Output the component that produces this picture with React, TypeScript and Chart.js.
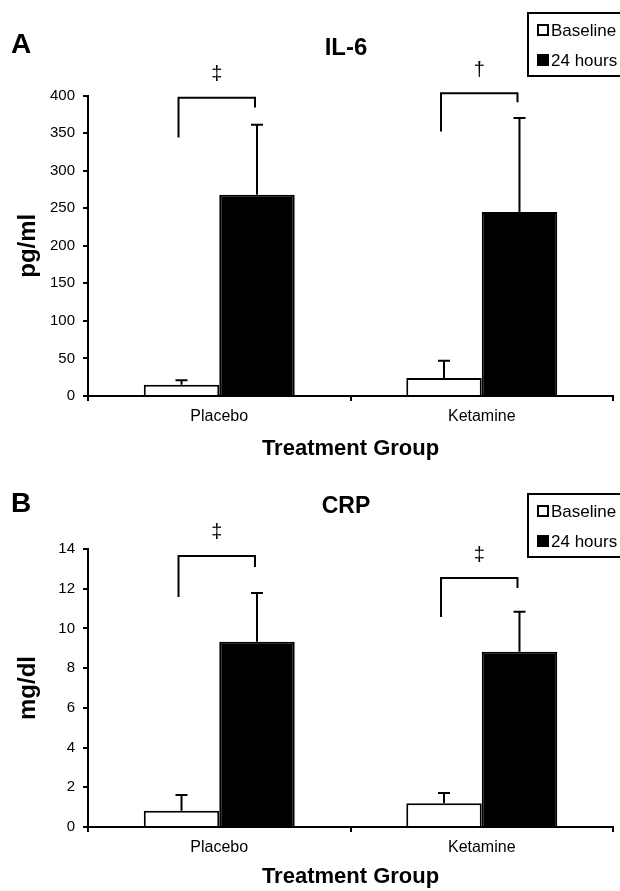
import React, { useEffect, useRef } from "react";
import { Chart, registerables } from "chart.js";

Chart.register(...registerables);

const FONT = "'Liberation Sans', Arial, Helvetica, sans-serif";

// ---- data ----
const categories = ["Placebo", "Ketamine"];
const seriesNames = ["Baseline", "24 hours"];
const xAxisTitle = "Treatment Group";

// Panel A: IL-6 (pg/ml)
const il6Baseline = [15, 24];
const il6BaselineErr = [6, 23];
const il6Hours24 = [268, 245];
const il6Hours24Err = [93, 125];
const il6Ticks = [0, 50, 100, 150, 200, 250, 300, 350, 400];
const il6BracketTop = [397, 403];
const il6BracketLeftEnd = [344, 352];
const il6BracketRightEnd = [384, 391];
const il6Sig = ["\u2021", "\u2020"];

// Panel B: CRP (mg/dl)
const crpBaseline = [0.82, 1.19];
const crpBaselineErr = [0.79, 0.52];
const crpHours24 = [9.33, 8.83];
const crpHours24Err = [2.46, 2.01];
const crpTicks = [0, 2, 4, 6, 8, 10, 12, 14];
const crpBracketTop = [13.65, 12.54];
const crpBracketLeftEnd = [11.58, 10.57];
const crpBracketRightEnd = [13.09, 12.03];
const crpSig = ["\u2021", "\u2021"];

type Panel = {
  top: number;
  height: number;
  letter: string;
  title: string;
  yTitle: string;
  baseline: number[];
  baselineErr: number[];
  hours24: number[];
  hours24Err: number[];
  ticks: number[];
  bracketTop: number[];
  bracketLeft: number[];
  bracketRight: number[];
  sig: string[];
  chartTop: number;
  xAxisHeight: number;
  xTitlePad: number;
  letterBaseline: number;
  titleBaseline: number;
  titleSize: number;
  legendTop: number;
};

const panels: Panel[] = [
  {
    top: 0,
    height: 470,
    letter: "A",
    title: "IL-6",
    yTitle: "pg/ml",
    baseline: il6Baseline,
    baselineErr: il6BaselineErr,
    hours24: il6Hours24,
    hours24Err: il6Hours24Err,
    ticks: il6Ticks,
    bracketTop: il6BracketTop,
    bracketLeft: il6BracketLeftEnd,
    bracketRight: il6BracketRightEnd,
    sig: il6Sig,
    chartTop: 95.5,
    xAxisHeight: 74,
    xTitlePad: 8,
    letterBaseline: 53,
    titleBaseline: 55,
    titleSize: 24,
    legendTop: 13,
  },
  {
    top: 470,
    height: 421,
    letter: "B",
    title: "CRP",
    yTitle: "mg/dl",
    baseline: crpBaseline,
    baselineErr: crpBaselineErr,
    hours24: crpHours24,
    hours24Err: crpHours24Err,
    ticks: crpTicks,
    bracketTop: crpBracketTop,
    bracketLeft: crpBracketLeftEnd,
    bracketRight: crpBracketRightEnd,
    sig: crpSig,
    chartTop: 79,
    xAxisHeight: 64,
    xTitlePad: 1,
    letterBaseline: 42,
    titleBaseline: 43,
    titleSize: 23,
    legendTop: 24,
  },
];

function makeAnnotPlugin(p: Panel) {
  return {
    id: "annot",
    afterDatasetsDraw(chart: any) {
      const ctx = chart.ctx;
      const y = chart.scales.y;
      ctx.save();
      ctx.strokeStyle = "#000";
      ctx.lineWidth = 2;
      // error bars
      chart.data.datasets.forEach((ds: any, di: number) => {
        const meta = chart.getDatasetMeta(di);
        meta.data.forEach((bar: any, i: number) => {
          const v = ds.data[i];
          const e = ds.errors[i];
          const yTop = y.getPixelForValue(v);
          const yErr = y.getPixelForValue(v + e);
          ctx.beginPath();
          ctx.moveTo(bar.x, yTop);
          ctx.lineTo(bar.x, yErr);
          ctx.moveTo(bar.x - 6, yErr);
          ctx.lineTo(bar.x + 6, yErr);
          ctx.stroke();
        });
      });
      // significance brackets
      const m0 = chart.getDatasetMeta(0);
      const m1 = chart.getDatasetMeta(1);
      ctx.fillStyle = "#000";
      ctx.font = `20px ${FONT}`;
      ctx.textAlign = "center";
      ctx.textBaseline = "middle";
      categories.forEach((_, i) => {
        const xL = m0.data[i].x - 3;
        const xR = m1.data[i].x - 2;
        const yT = y.getPixelForValue(p.bracketTop[i]);
        const yL = y.getPixelForValue(p.bracketLeft[i]);
        const yR = y.getPixelForValue(p.bracketRight[i]);
        ctx.beginPath();
        ctx.moveTo(xL, yL);
        ctx.lineTo(xL, yT);
        ctx.lineTo(xR, yT);
        ctx.lineTo(xR, yR);
        ctx.stroke();
        ctx.fillText(p.sig[i], (xL + xR) / 2, yT - 23);
      });
      ctx.restore();
    },
    afterDraw(chart: any) {
      const ctx = chart.ctx;
      ctx.save();
      ctx.fillStyle = "#000";
      ctx.strokeStyle = "#000";
      // panel letter
      ctx.font = `bold 28px ${FONT}`;
      ctx.textAlign = "left";
      ctx.textBaseline = "alphabetic";
      ctx.fillText(p.letter, 11, p.letterBaseline);
      // title
      ctx.font = `bold ${p.titleSize}px ${FONT}`;
      ctx.textAlign = "center";
      ctx.fillText(p.title, 346, p.titleBaseline);
      // legend
      const lx = 528;
      const ly = p.legendTop;
      ctx.lineWidth = 2;
      ctx.strokeRect(lx, ly, 110, 63);
      ctx.font = `17px ${FONT}`;
      ctx.textAlign = "left";
      ctx.textBaseline = "middle";
      const rows = [ly + 17, ly + 47];
      seriesNames.forEach((name, i) => {
        const cy = rows[i];
        if (i === 0) {
          ctx.fillStyle = "#fff";
          ctx.fillRect(538, cy - 5, 10, 10);
          ctx.strokeRect(538, cy - 5, 10, 10);
        } else {
          ctx.fillStyle = "#000";
          ctx.fillRect(537, cy - 6, 12, 12);
        }
        ctx.fillStyle = "#000";
        ctx.fillText(name, 551, cy + 1);
      });
      ctx.restore();
    },
  };
}

function PanelChart({ p }: { p: Panel }) {
  const ref = useRef<HTMLCanvasElement | null>(null);
  useEffect(() => {
    if (!ref.current) return;
    const axisGrid = {
      display: true,
      drawOnChartArea: false,
      drawTicks: true,
      tickLength: 5,
      color: "#000",
      lineWidth: 2,
    };
    const axisBorder = { display: true, color: "#000", width: 2 };
    const chart = new Chart(ref.current, {
      type: "bar",
      data: {
        labels: categories,
        datasets: [
          {
            label: seriesNames[0],
            data: p.baseline,
            errors: p.baselineErr,
            backgroundColor: "#fff",
            borderColor: "#000",
            borderWidth: 2,
            barPercentage: 1,
            categoryPercentage: 0.575,
          } as any,
          {
            label: seriesNames[1],
            data: p.hours24,
            errors: p.hours24Err,
            backgroundColor: "#000",
            borderColor: "#000",
            borderWidth: 2,
            barPercentage: 1,
            categoryPercentage: 0.575,
          } as any,
        ],
      },
      options: {
        responsive: false,
        animation: false,
        events: [],
        layout: { padding: { left: 0, right: 7, top: p.chartTop, bottom: 0 } },
        plugins: {
          legend: { display: false },
          tooltip: { enabled: false },
          title: { display: false },
        },
        scales: {
          x: {
            offset: true,
            grid: { ...axisGrid, offset: true },
            border: axisBorder,
            ticks: { color: "#000", font: { size: 16, family: FONT }, padding: 6 },
            title: {
              display: true,
              text: xAxisTitle,
              color: "#000",
              font: { size: 22, weight: "bold", family: FONT },
              padding: { top: 0, bottom: p.xTitlePad },
            },
            afterFit: (s: any) => {
              s.height = p.xAxisHeight;
            },
          },
          y: {
            min: 0,
            max: p.ticks[p.ticks.length - 1],
            afterBuildTicks: (s: any) => {
              s.ticks = p.ticks.map((v) => ({ value: v }));
            },
            grid: axisGrid,
            border: axisBorder,
            ticks: { color: "#000", font: { size: 15, family: FONT }, padding: 8 },
            title: {
              display: true,
              text: p.yTitle,
              color: "#000",
              font: { size: 24, weight: "bold", family: FONT },
              padding: { top: 14, bottom: 0 },
            },
            afterFit: (s: any) => {
              s.width = 88;
            },
          },
        },
      } as any,
      plugins: [makeAnnotPlugin(p)],
    });
    return () => chart.destroy();
  }, [p]);
  return (
    <canvas
      ref={ref}
      width={620}
      height={p.height}
      style={{ position: "absolute", left: 0, top: p.top, display: "block" }}
    />
  );
}

export default function App() {
  return (
    <div
      style={{
        position: "absolute",
        left: 0,
        top: 0,
        width: 620,
        height: 891,
        background: "#fff",
        overflow: "hidden",
      }}
    >
      {panels.map((p) => (
        <PanelChart key={p.letter} p={p} />
      ))}
    </div>
  );
}
